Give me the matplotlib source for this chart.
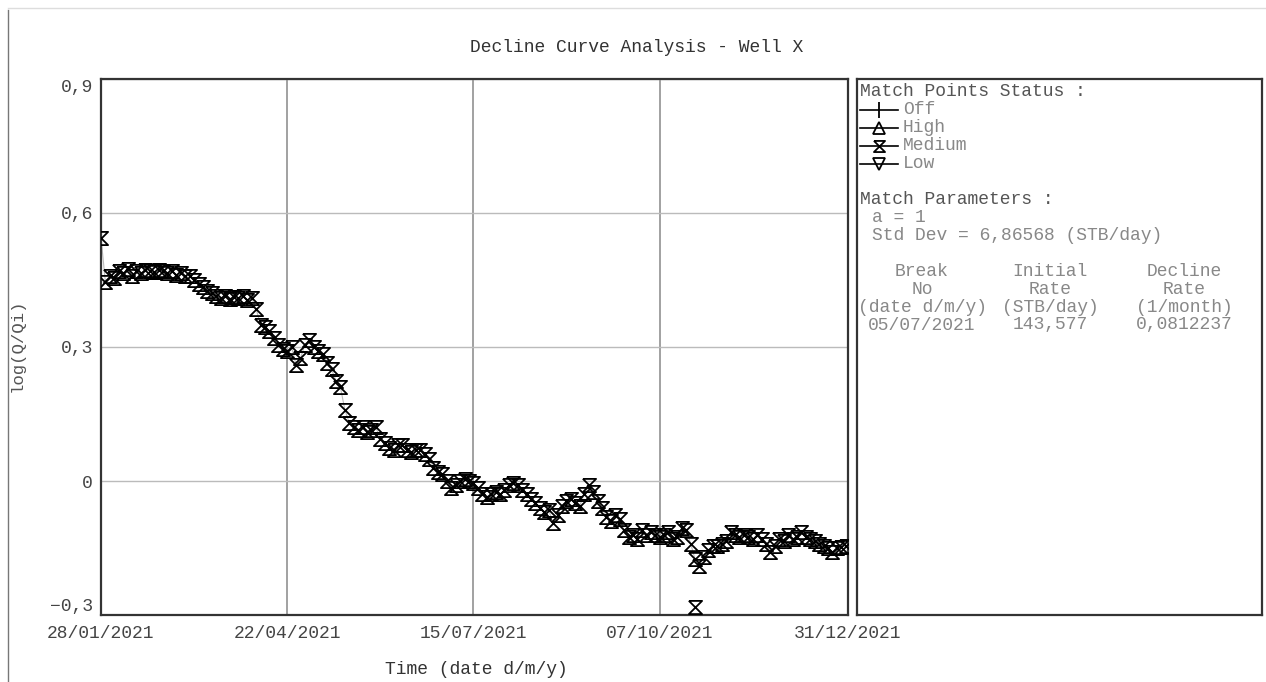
import numpy as np
import matplotlib
matplotlib.use("Agg")
import matplotlib.pyplot as plt
import matplotlib.dates as mdates
from matplotlib.lines import Line2D
from matplotlib.ticker import FuncFormatter, FixedLocator

plt.rcParams['font.family'] = ['Liberation Mono', 'DejaVu Sans Mono']

# --- data (days after 28/01/2021, log(Q/Qi)) ---
start_date = np.datetime64('2021-01-28')
days = list(range(0, 338, 2))
logq = [
    0.545, 0.445, 0.46, 0.455, 0.47, 0.465, 0.475, 0.46, 0.47, 0.465,
    0.472, 0.47, 0.468, 0.473, 0.47, 0.465, 0.47, 0.462, 0.466, 0.458,
    0.46, 0.45, 0.44, 0.435, 0.425, 0.42, 0.415, 0.41, 0.415, 0.408,
    0.412, 0.41, 0.415, 0.405, 0.41, 0.385, 0.35, 0.345, 0.335, 0.32,
    0.305, 0.295, 0.29, 0.30, 0.26, 0.275, 0.305, 0.315, 0.30, 0.29,
    0.285, 0.265, 0.25, 0.225, 0.21, 0.16, 0.13, 0.12, 0.115, 0.12,
    0.11, 0.115, 0.12, 0.095, 0.085, 0.075, 0.07, 0.08, 0.08, 0.07,
    0.065, 0.07, 0.07, 0.06, 0.05, 0.03, 0.02, 0.015, 0.0, -0.015,
    -0.01, 0.0, 0.005, 0.0, -0.005, -0.015, -0.03, -0.035, -0.03, -0.025,
    -0.03, -0.02, -0.01, -0.005, -0.01, -0.02, -0.03, -0.04, -0.05, -0.06,
    -0.07, -0.065, -0.095, -0.075, -0.055, -0.045, -0.04, -0.05, -0.055, -0.03,
    -0.01, -0.025, -0.045, -0.06, -0.08, -0.09, -0.075, -0.085, -0.11, -0.125,
    -0.12, -0.13, -0.11, -0.12, -0.115, -0.12, -0.125, -0.12, -0.115, -0.13,
    -0.125, -0.105, -0.11, -0.14, -0.175, -0.19, -0.17, -0.155, -0.145, -0.145,
    -0.14, -0.135, -0.115, -0.12, -0.125, -0.12, -0.125, -0.13, -0.12, -0.13,
    -0.14, -0.16, -0.145, -0.13, -0.135, -0.12, -0.13, -0.125, -0.115, -0.125,
    -0.13, -0.135, -0.14, -0.145, -0.15, -0.16, -0.15, -0.148, -0.145,
]
outlier_days = [268]
outlier_logq = [-0.282]

tick_dates = ['2021-01-28', '2021-04-22', '2021-07-15', '2021-10-07', '2021-12-31']
y_ticks = [-0.3, 0.0, 0.3, 0.6, 0.9]

# hourglass marker ("Medium" status)
hourglass = [(-1, 1), (1, 1), (-1, -1), (1, -1), (-1, 1)]

W, H = 1266, 682
FS = 13
fig = plt.figure(figsize=(W / 100, H / 100), dpi=100)


def fx(px):
    return px / W


def fy(py):
    return 1 - py / H


ax = fig.add_axes([fx(101), fy(615), fx(848) - fx(101), fy(79) - fy(615)])

x = (start_date + np.array(days).astype('timedelta64[D]')).astype('datetime64[ms]').astype(object)
x_out = (start_date + np.array(outlier_days).astype('timedelta64[D]')).astype('datetime64[ms]').astype(object)

mk_style = dict(linestyle='none', marker=hourglass, markersize=9.5, markerfacecolor='none',
                markeredgecolor='black', markeredgewidth=1.3, zorder=3)
ax.plot(x, logq, color='#bbbbbb', lw=0.8, zorder=2)
ax.plot(x, logq, **mk_style)
ax.plot(x_out, outlier_logq, **mk_style)

tdates = [np.datetime64(d).astype('datetime64[ms]').astype(object) for d in tick_dates]
ax.set_xlim(tdates[0], tdates[-1])
ax.set_ylim(-0.3, 0.9)
ax.xaxis.set_major_locator(FixedLocator(mdates.date2num(tdates)))
ax.xaxis.set_major_formatter(mdates.DateFormatter('%d/%m/%Y'))
ax.yaxis.set_major_locator(FixedLocator(y_ticks))
ax.yaxis.set_major_formatter(FuncFormatter(
    lambda v, p: '0' if abs(v) < 1e-9 else f'{v:.1f}'.replace('.', ',').replace('-', '\u2212')))
ax.tick_params(length=0, labelsize=FS, labelcolor='#444444', pad=6)
ax.tick_params(axis='x', pad=7)
labels = ax.get_yticklabels()
labels[0].set_va('bottom')
labels[-1].set_va('top')

ax.grid(True, axis='x', color='#888888', lw=1.1)
ax.grid(True, axis='y', color='#bbbbbb', lw=1.0)
for s in ax.spines.values():
    s.set_color('#333333')
    s.set_linewidth(1.6)

fig.text(fx(637), fy(47), 'Decline Curve Analysis - Well X', ha='center', va='center',
         fontsize=FS, color='#333333')
fig.text(fx(476), fy(670), 'Time (date d/m/y)', ha='center', va='center',
         fontsize=FS, color='#333333')
fig.text(fx(17), fy(345), 'log(Q/Qi)', ha='center', va='center', rotation=90,
         fontsize=12.5, color='#555555')

# --- right information panel ---
pan = fig.add_axes([fx(857), fy(615), fx(1262) - fx(857), fy(79) - fy(615)])
pan.set_xticks([])
pan.set_yticks([])
for s in pan.spines.values():
    s.set_color('#333333')
    s.set_linewidth(1.6)

head = '#555555'
body = '#888888'
fig.text(fx(860), fy(92), 'Match Points Status :', va='center', fontsize=FS, color=head)
legend_rows = [('Off', '|', 110), ('High', '^', 128), ('Medium', hourglass, 146), ('Low', 'v', 164)]
for name, mk, py in legend_rows:
    fig.add_artist(Line2D([fx(860), fx(898)], [fy(py), fy(py)], color='black', lw=1.2))
    ms = 12 if mk == '|' else 8
    fig.add_artist(Line2D([fx(879)], [fy(py)], marker=mk, markersize=ms, markerfacecolor='none',
                          markeredgecolor='black', markeredgewidth=1.3, linestyle='none'))
    fig.text(fx(903), fy(py), name, va='center', fontsize=FS, color=body)

fig.text(fx(860), fy(200), 'Match Parameters :', va='center', fontsize=FS, color=head)
fig.text(fx(872), fy(218), 'a = 1', va='center', fontsize=FS, color=body)
fig.text(fx(872), fy(236), 'Std Dev = 6,86568 (STB/day)', va='center', fontsize=FS, color=body)

col_rows = [
    (271, [(922, 'Break'), (1050, 'Initial'), (1184, 'Decline')]),
    (289, [(922, 'No'), (1050, 'Rate'), (1184, 'Rate')]),
    (307, [(922, '(date d/m/y)'), (1050, '(STB/day)'), (1184, '(1/month)')]),
    (325, [(922, '05/07/2021'), (1050, '143,577'), (1184, '0,0812237')]),
]
for py, cells in col_rows:
    for px, t in cells:
        fig.text(fx(px), fy(py), t, ha='center', va='center', fontsize=FS, color=body)

# outer frame lines of the original window
fig.add_artist(Line2D([fx(8), fx(8)], [fy(10), fy(682)], color='#777777', lw=1.0))
fig.add_artist(Line2D([fx(8), fx(1266)], [fy(8), fy(8)], color='#dddddd', lw=1.0))

fig.savefig('out.png', dpi=100)
